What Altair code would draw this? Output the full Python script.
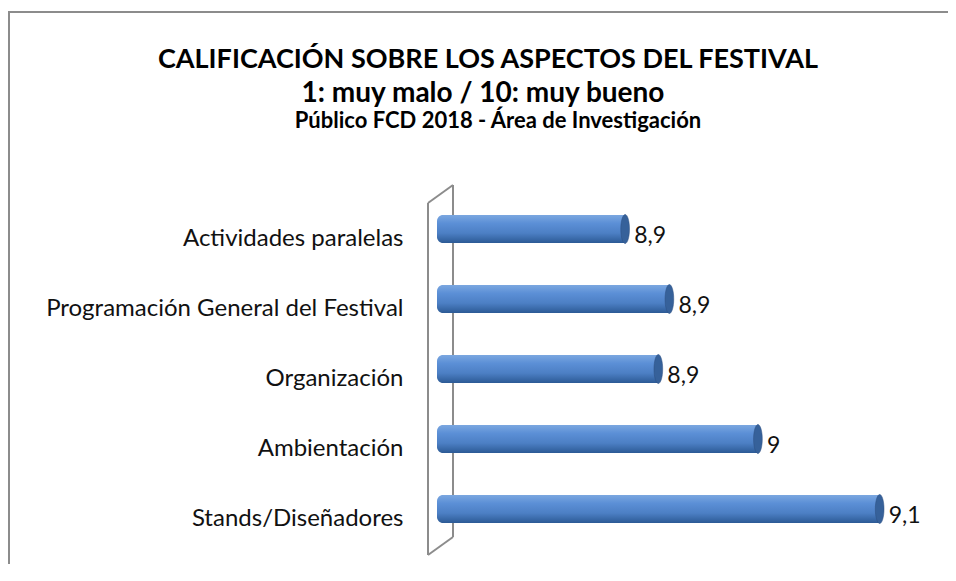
import altair as alt
import pandas as pd

categories = ["Actividades paralelas", "Programación General del Festival",
              "Organización", "Ambientación", "Stands/Diseñadores"]
values = [8.87, 8.91, 8.90, 8.99, 9.10]
labels = ["8,9", "8,9", "8,9", "9", "9,1"]
axis_min = 8.7

title1 = "CALIFICACIÓN SOBRE LOS ASPECTOS DEL FESTIVAL"
title2 = "1: muy malo / 10: muy bueno"
title3 = "Público FCD 2018 - Área de Investigación"

df = pd.DataFrame({"cat": categories, "val": values, "lab": labels,
                   "base": [axis_min] * len(values)})
one = pd.DataFrame({"k": [0]})

FONT = "Lato"
xs = alt.Scale(domain=[axis_min, 9.15], nice=False, zero=False)
ys = alt.Scale(domain=categories, paddingInner=0.6, paddingOuter=0.3)

frame = alt.Chart(one).mark_rect(fill="transparent", stroke="#8c8c8c", strokeWidth=2).encode(
    x=alt.value(-428), y=alt.value(-182), x2=alt.value(700), y2=alt.value(600))

wall_style = dict(color="#8c8c8c", strokeWidth=2)
wall_front = alt.Chart(one).mark_rule(**wall_style).encode(
    x=alt.value(-9), y=alt.value(9), x2=alt.value(-9), y2=alt.value(361))
wall_back = alt.Chart(one).mark_rule(**wall_style).encode(
    x=alt.value(16), y=alt.value(-9), x2=alt.value(16), y2=alt.value(343))
wall_top = alt.Chart(one).mark_rule(**wall_style).encode(
    x=alt.value(-9), y=alt.value(9), x2=alt.value(16), y2=alt.value(-9))
wall_bot = alt.Chart(one).mark_rule(**wall_style).encode(
    x=alt.value(-9), y=alt.value(361), x2=alt.value(16), y2=alt.value(343))

grad = alt.Gradient(gradient="linear", x1=0, x2=0, y1=0, y2=1, stops=[
    alt.GradientStop(color="#7ba7e0", offset=0),
    alt.GradientStop(color="#5b8fd6", offset=0.3),
    alt.GradientStop(color="#4c7fc4", offset=0.65),
    alt.GradientStop(color="#2c5a95", offset=1)])

bars = alt.Chart(df).mark_bar(fill=grad, cornerRadiusTopLeft=6, cornerRadiusBottomLeft=6).encode(
    x=alt.X("base:Q", scale=xs, axis=None),
    x2="val:Q",
    y=alt.Y("cat:N", scale=ys, sort=categories, title=None,
            axis=alt.Axis(domain=False, ticks=False, grid=False, labelFont=FONT,
                          labelFontSize=24, labelColor="#111111", labelPadding=34,
                          labelOffset=10, labelLimit=500)))

caps = alt.Chart(df).mark_point(
    shape="M0,-1 A0.3,1 0 1,1 0,1 A0.3,1 0 1,1 0,-1 Z",
    filled=True, fill="#36619a", stroke="#2c4f80", strokeWidth=0.5, opacity=1,
    size=841).encode(
    x=alt.X("val:Q", scale=xs), y=alt.Y("cat:N", scale=ys, sort=categories))

texts = alt.Chart(df).mark_text(align="left", baseline="middle", dx=9, dy=7,
                                font=FONT, fontSize=23, color="#111111").encode(
    x=alt.X("val:Q", scale=xs), y=alt.Y("cat:N", scale=ys, sort=categories), text="lab:N")

t1 = alt.Chart(one).mark_text(align="center", baseline="alphabetic", font=FONT,
                              fontWeight="bold", fontSize=27, color="#000000").encode(
    x=alt.value(51), y=alt.value(-126), text=alt.value(title1))
t2 = alt.Chart(one).mark_text(align="center", baseline="alphabetic", font=FONT,
                              fontWeight="bold", fontSize=28, color="#000000").encode(
    x=alt.value(46), y=alt.value(-92), text=alt.value(title2))
t3 = alt.Chart(one).mark_text(align="center", baseline="alphabetic", font=FONT,
                              fontWeight="bold", fontSize=22, color="#000000").encode(
    x=alt.value(61), y=alt.value(-66), text=alt.value(title3))

chart = alt.layer(frame, wall_back, wall_front, wall_top, wall_bot, bars, caps, texts,
                  t1, t2, t3).properties(
    width=498, height=350,
    background="white",
    autosize=alt.AutoSizeParams(type="none"),
    padding={"left": 429, "top": 186, "right": 13, "bottom": 20},
).configure_view(strokeWidth=0, stroke="transparent")

chart.save("out.html", embed_options={"renderer": "svg", "actions": False})
